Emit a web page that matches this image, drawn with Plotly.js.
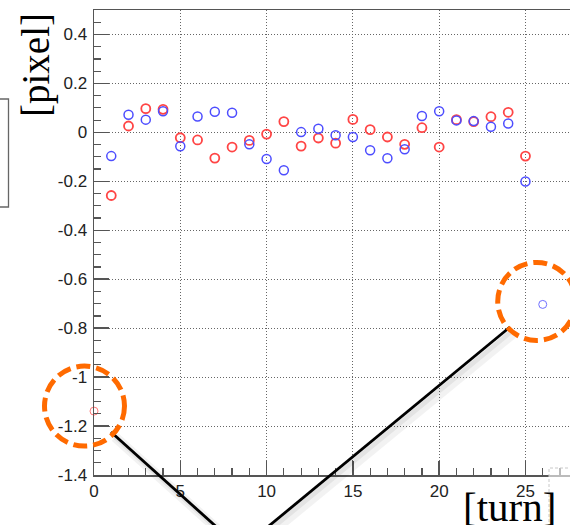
<!DOCTYPE html>
<html>
<head>
<meta charset="utf-8">
<script src="https://cdn.plot.ly/plotly-3.0.1.min.js"></script>
<style>
html,body{margin:0;padding:0;background:#fff;overflow:hidden;}
#chart{width:570px;height:525px;}
</style>
</head>
<body>
<div id="chart"></div>
<script>
// ---- data ----
const turns = [1,2,3,4,5,6,7,8,9,10,11,12,13,14,15,16,17,18,19,20,21,22,23,24,25];
const redValues = [-0.258, 0.026, 0.097, 0.094, -0.022, -0.031, -0.105, -0.060, -0.033, -0.007,
                   0.044, -0.056, -0.023, -0.044, 0.053, 0.011, -0.019, -0.049, 0.019, -0.060,
                   0.052, 0.044, 0.064, 0.082, -0.097];
const blueValues = [-0.097, 0.072, 0.052, 0.086, -0.057, 0.065, 0.084, 0.080, -0.049, -0.109,
                    -0.155, 0.001, 0.015, -0.012, -0.019, -0.073, -0.106, -0.069, 0.067, 0.086,
                    0.049, 0.046, 0.023, 0.036, -0.201];
const redOutlierTurn = [0];
const redOutlierValue = [-1.139];
const blueOutlierTurn = [26];
const blueOutlierValue = [-0.703];

const xTickVals = [0,5,10,15,20,25];
const xTickText = ['0','5','10','15','20','25'];
const yTickVals = [0.4,0.2,0,-0.2,-0.4,-0.6,-0.8,-1,-1.2,-1.4];
const yTickText = ['0.4','0.2','0','-0.2','-0.4','-0.6','-0.8','-1','-1.2','-1.4'];

const xLabel = '[turn]';
const yLabel = '[pixel]';

// ---- layout geometry ----
const W = 570, H = 525;
const M = {l:94, r:0, t:10, b:50};
const PW = W - M.l - M.r, PH = H - M.t - M.b;
const xRange = [0, 27.58];
const yRange = [-1.4, 0.5];
const pxX = px => (px - M.l) / PW;           // page pixel -> paper x
const pxY = py => 1 - (py - M.t) / PH;        // page pixel -> paper y
const dX = v => (v - xRange[0]) / (xRange[1] - xRange[0]); // data -> paper
const dY = v => (v - yRange[0]) / (yRange[1] - yRange[0]);

const tickFont = {family:'Liberation Sans, Arial, sans-serif', size:17, color:'#222'};
const axisCol = '#555';

const traces = [
  {x: turns, y: redValues, type:'scatter', mode:'markers', name:'red',
   marker:{symbol:'circle-open', size:9, color:'#ff4545', line:{width:1.8, color:'#ff4545'}}},
  {x: turns, y: blueValues, type:'scatter', mode:'markers', name:'blue',
   marker:{symbol:'circle-open', size:9, color:'#4d4dff', line:{width:1.5, color:'#4d4dff'}}},
  {x: redOutlierTurn, y: redOutlierValue, type:'scatter', mode:'markers', cliponaxis:false,
   marker:{symbol:'circle-open', size:8, color:'#ff7a7a', line:{width:1, color:'#ff7a7a'}}},
  {x: blueOutlierTurn, y: blueOutlierValue, type:'scatter', mode:'markers', cliponaxis:false,
   marker:{symbol:'circle-open', size:8, color:'#6f6fff', line:{width:1, color:'#6f6fff'}}}
];

function circleAround(xv, yv, dx, dy, r){
  return {type:'circle', xref:'paper', yref:'paper', xsizemode:'pixel', ysizemode:'pixel',
    xanchor: dX(xv), yanchor: dY(yv),
    x0: dx - r, x1: dx + r, y0: -dy - r, y1: -dy + r,
    line:{color:'#ff6a00', width:5, dash:'14px,6px'}, layer:'above'};
}
function seg(x0,y0,x1,y1,color,width){
  return {type:'line', xref:'paper', yref:'paper', x0:pxX(x0), y0:pxY(y0), x1:pxX(x1), y1:pxY(y1),
    line:{color:color, width:width}, layer:'above'};
}

const shapes = [
  // partial box at the left edge
  {type:'rect', xref:'paper', yref:'paper', x0:pxX(-10), x1:pxX(8.5), y0:pxY(207), y1:pxY(99),
   line:{color:'#666', width:1.3}, fillcolor:'rgba(0,0,0,0)', layer:'above'},
  // faint dashed box bottom-right
  {type:'rect', xref:'paper', yref:'paper', x0:pxX(549), x1:pxX(600), y0:pxY(560), y1:pxY(468),
   line:{color:'#c8c8c8', width:1, dash:'3px,2px'}, fillcolor:'rgba(255,255,255,0.6)', layer:'above'},
  // callout shadows (soft)
  seg(115,437,245,554,'rgba(0,0,0,0.05)',10),
  seg(515,332,245,554,'rgba(0,0,0,0.05)',10),
  seg(113,435,243,552,'rgba(0,0,0,0.06)',5),
  seg(513,330,243,552,'rgba(0,0,0,0.06)',5),
  // callout lines
  seg(111,432,241,549,'#000',2.8),
  seg(510,327,241,549,'#000',2.8),
  // highlight circles
  circleAround(redOutlierTurn[0], redOutlierValue[0], -9.5, -5, 40),
  circleAround(blueOutlierTurn[0], blueOutlierValue[0], -6, -3, 39)
];

const annotations = [
  {text: yLabel, xref:'paper', yref:'paper', x:pxX(36), y:pxY(65), xanchor:'center', yanchor:'middle',
   textangle:-90, showarrow:false, font:{family:'Liberation Serif, Times New Roman, serif', size:39, color:'#000'}},
  {text: xLabel, xref:'paper', yref:'paper', x:pxX(461), y:pxY(507), xanchor:'left', yanchor:'middle',
   showarrow:false, font:{family:'Liberation Serif, Times New Roman, serif', size:41, color:'#000'}}
];

const layout = {
  width: W, height: H,
  margin: M,
  paper_bgcolor:'#fff', plot_bgcolor:'#fff',
  showlegend:false,
  xaxis:{
    range: xRange, tickmode:'array', tickvals: xTickVals, ticktext: xTickText,
    ticks:'inside', ticklen:14, tickwidth:1.5, tickcolor:axisCol,
    showline:true, linecolor:axisCol, linewidth:1.5, mirror:true,
    showgrid:true, gridcolor:'#666', gridwidth:1, griddash:'1px,2px',
    zeroline:false, tickfont: tickFont,
    minor:{tickmode:'linear', tick0:0, dtick:1, ticks:'inside', ticklen:7, tickwidth:1.2, tickcolor:axisCol, showgrid:false}
  },
  yaxis:{
    range: yRange, tickmode:'array', tickvals: yTickVals, ticktext: yTickText,
    ticks:'inside', ticklen:15, tickwidth:1.5, tickcolor:axisCol,
    showline:true, linecolor:axisCol, linewidth:1.5, mirror:false,
    showgrid:true, gridcolor:'#666', gridwidth:1, griddash:'1px,2px',
    zeroline:false, tickfont: tickFont, ticklabelstandoff:2,
    minor:{tickmode:'linear', tick0:0, dtick:0.05, ticks:'inside', ticklen:7, tickwidth:1.2, tickcolor:axisCol, showgrid:false}
  },
  shapes: shapes,
  annotations: annotations
};

Plotly.newPlot('chart', traces, layout, {displayModeBar:false, staticPlot:true});
</script>
</body>
</html>
